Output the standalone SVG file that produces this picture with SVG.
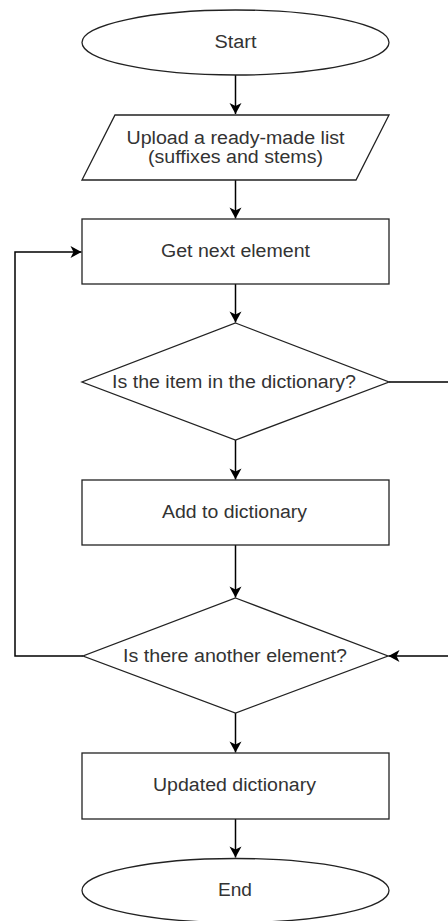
<svg xmlns="http://www.w3.org/2000/svg" width="448" height="921" viewBox="0 0 448 921">
<style>
.s{fill:#fff;stroke:#222;stroke-width:1.3}
.t{font-family:"Liberation Sans",Arial,sans-serif;font-size:18px;fill:#333;text-anchor:middle}
.c{fill:none;stroke:#000;stroke-width:1.5}
</style>
<defs>
<marker id="a" markerUnits="userSpaceOnUse" markerWidth="14" markerHeight="14" viewBox="-12 -7 14 14" refX="0" refY="0" orient="auto">
<path d="M-11,-6 L0,0 L-11,6 L-8,0 Z" fill="#000"/>
</marker>
</defs>
<rect width="448" height="921" fill="#fff"/>
<g id="connectors">
<path class="c" d="M235.5,75 V114" marker-end="url(#a)"/>
<path class="c" d="M235.5,180 V218.5" marker-end="url(#a)"/>
<path class="c" d="M235.5,284 V322.5" marker-end="url(#a)"/>
<path class="c" d="M235.5,440 V479.5" marker-end="url(#a)"/>
<path class="c" d="M235.5,545 V597.5" marker-end="url(#a)"/>
<path class="c" d="M235.5,713 V752.5" marker-end="url(#a)"/>
<path class="c" d="M235.5,819 V857.5" marker-end="url(#a)"/>
<path class="c" d="M83,656 H15 V252 H81.5" marker-end="url(#a)"/>
<path class="c" d="M389,382 H455 V656 H388.5" marker-end="url(#a)"/>
</g>
<g id="start">
<ellipse class="s" cx="235.5" cy="42.5" rx="153.5" ry="32.5"/>
<text class="t" x="235.5" y="48" textLength="42" lengthAdjust="spacingAndGlyphs">Start</text>
</g>
<g id="upload">
<polygon class="s" points="115,115 389,115 356,180 82,180"/>
<text class="t" x="235.5" y="143.5" textLength="218" lengthAdjust="spacingAndGlyphs">Upload a ready-made list</text>
<text class="t" x="235.5" y="163" textLength="175" lengthAdjust="spacingAndGlyphs">(suffixes and stems)</text>
</g>
<g id="getnext">
<rect class="s" x="82" y="219" width="307" height="65"/>
<text class="t" x="235.5" y="256.5" textLength="149" lengthAdjust="spacingAndGlyphs">Get next element</text>
</g>
<g id="indict">
<polygon class="s" points="235.5,323 389,382 235.5,440 82,382"/>
<text class="t" x="234" y="387.5" textLength="244" lengthAdjust="spacingAndGlyphs">Is the item in the dictionary?</text>
</g>
<g id="add">
<rect class="s" x="82" y="480" width="307" height="65"/>
<text class="t" x="234.5" y="517.5" textLength="145" lengthAdjust="spacingAndGlyphs">Add to dictionary</text>
</g>
<g id="another">
<polygon class="s" points="235.5,598 388,656 235.5,713 83,656"/>
<text class="t" x="235" y="661.5" textLength="224" lengthAdjust="spacingAndGlyphs">Is there another element?</text>
</g>
<g id="updated">
<rect class="s" x="82" y="753" width="307" height="66"/>
<text class="t" x="234.5" y="791" textLength="163" lengthAdjust="spacingAndGlyphs">Updated dictionary</text>
</g>
<g id="end">
<ellipse class="s" cx="235.5" cy="890.5" rx="153.5" ry="32"/>
<text class="t" x="235" y="896" textLength="34" lengthAdjust="spacingAndGlyphs">End</text>
</g>
</svg>
